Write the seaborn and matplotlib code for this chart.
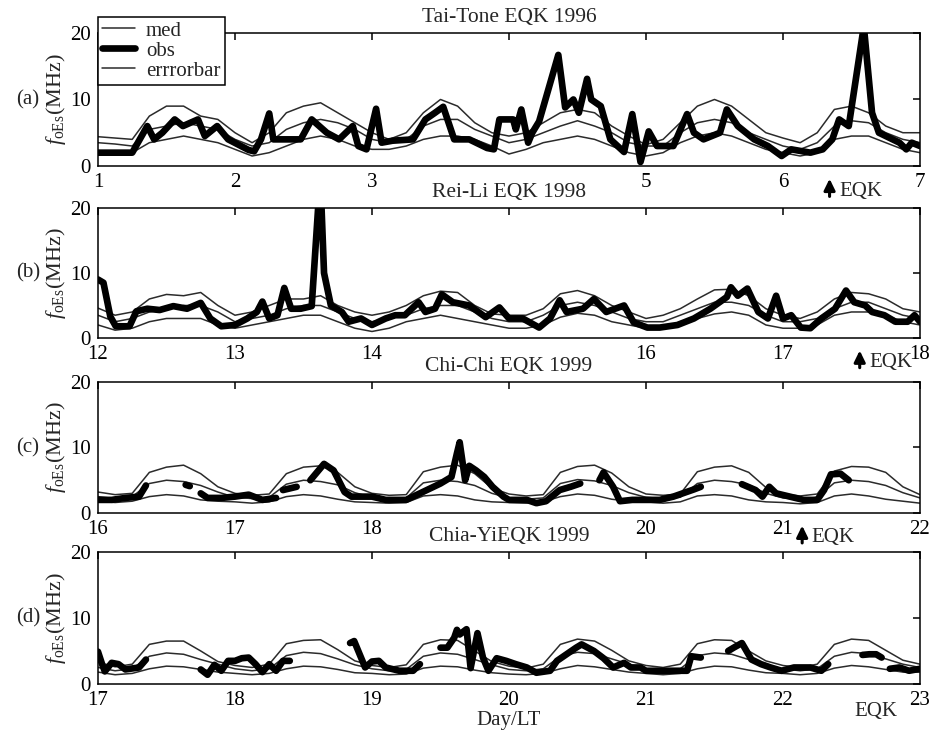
import numpy as np
import pandas as pd
import matplotlib
matplotlib.use("Agg")
import matplotlib.pyplot as plt
import seaborn as sns
from matplotlib.lines import Line2D

nan = np.nan

# ---- panel metadata ----
titles = ["Tai-Tone EQK 1996", "Rei-Li EQK 1998", "Chi-Chi EQK 1999", "Chia-YiEQK 1999"]
panel_tags = ["(a)", "(b)", "(c)", "(d)"]
day_start = [1, 12, 16, 17]

# ---- median / error bar curves, 3-hourly samples over 6 days ----
upper_a = [4.4, 4.2, 4.0, 7.5, 9.0, 9.0, 7.5, 7.0, 5.0,
           3.5, 5.0, 8.0, 9.0, 9.5, 8.0, 6.5, 5.0,
           4.0, 5.0, 8.0, 10.0, 9.0, 6.5, 5.0, 4.5,
           5.0, 6.5, 8.0, 8.5, 8.0, 6.0, 4.5, 3.2,
           4.0, 6.5, 9.0, 10.0, 9.0, 7.0, 5.0, 4.2,
           3.5, 5.0, 8.5, 9.0, 8.0, 6.0, 5.0, 5.0]
med_a = [3.5, 3.3, 3.0, 5.5, 6.0, 6.5, 6.0, 5.5, 4.0,
         3.0, 3.5, 5.5, 6.5, 7.0, 6.5, 5.5, 4.0,
         3.5, 4.0, 6.0, 7.0, 7.0, 5.5, 4.5, 3.5,
         4.0, 5.0, 6.0, 6.8, 6.0, 5.0, 3.5, 3.0,
         3.0, 5.0, 6.5, 7.0, 6.5, 5.0, 4.0, 3.0,
         2.5, 3.5, 6.0, 6.8, 6.5, 5.0, 4.0, 3.5]
lower_a = [2.2, 2.0, 2.0, 3.5, 4.0, 4.5, 4.0, 3.5, 2.5,
           1.5, 2.0, 3.0, 4.0, 4.5, 4.0, 3.0, 2.5,
           2.5, 3.0, 4.0, 4.5, 4.5, 4.0, 3.0, 1.8,
           2.5, 3.5, 4.0, 4.5, 4.0, 3.0, 2.0, 1.5,
           2.0, 3.5, 4.5, 5.0, 4.5, 3.5, 2.5, 2.0,
           1.5, 2.0, 4.0, 4.5, 4.5, 3.5, 2.5, 2.0]

upper_b = [4.6, 3.5, 4.0, 6.0, 6.7, 6.5, 7.0, 5.0,
           3.5, 4.0, 5.0, 6.0, 6.0, 6.5, 5.0, 4.0,
           3.5, 4.0, 5.0, 6.5, 7.2, 7.0, 5.0, 3.7,
           3.5, 3.5, 4.5, 6.8, 7.3, 6.5, 5.0, 4.0,
           3.0, 3.5, 4.5, 6.0, 7.4, 7.5, 6.5, 4.5,
           3.5, 3.0, 4.0, 6.0, 7.0, 6.8, 6.0, 4.5, 4.0]
med_b = [3.5, 2.5, 3.0, 4.0, 4.5, 5.0, 5.0, 4.0,
         2.5, 3.0, 3.5, 4.5, 5.0, 5.0, 4.0, 3.0,
         2.5, 3.0, 3.5, 4.5, 5.0, 5.0, 4.0, 3.0,
         2.5, 2.5, 3.5, 5.0, 5.5, 5.0, 4.0, 3.0,
         2.5, 2.5, 3.5, 4.5, 5.5, 5.5, 5.0, 3.5,
         2.5, 2.5, 3.0, 4.5, 5.5, 5.5, 4.5, 3.5, 3.0]
lower_b = [2.0, 1.2, 1.5, 2.5, 3.0, 3.0, 3.0, 2.0,
           1.5, 2.0, 2.5, 3.0, 3.5, 3.5, 2.5, 1.5,
           1.0, 1.5, 2.5, 3.0, 3.5, 3.0, 2.5, 2.0,
           1.5, 1.5, 2.0, 3.2, 3.8, 3.5, 2.5, 2.0,
           1.5, 1.5, 2.5, 3.0, 3.7, 4.0, 3.5, 2.0,
           1.5, 1.5, 2.0, 3.5, 4.0, 4.0, 3.5, 2.5, 2.0]

upper_c = [3.2, 2.8, 3.0, 6.2, 7.0, 7.3, 6.0, 4.0,
           3.0, 2.7, 2.9, 6.0, 7.0, 7.2, 6.2, 4.0,
           3.0, 2.7, 2.8, 6.3, 7.0, 7.3, 6.0, 3.8,
           2.9, 2.6, 2.8, 6.2, 7.1, 7.3, 6.1, 4.0,
           2.9, 2.7, 2.9, 6.3, 7.0, 7.2, 6.2, 3.9,
           2.9, 2.6, 2.9, 6.4, 7.1, 7.0, 6.2, 4.0, 2.8]
med_c = [2.5, 2.2, 2.5, 4.5, 5.0, 4.8, 4.2, 3.2,
         2.4, 2.2, 2.4, 4.4, 5.0, 4.8, 4.3, 3.1,
         2.4, 2.1, 2.3, 4.6, 5.0, 4.8, 4.2, 3.0,
         2.3, 2.1, 2.3, 4.5, 5.1, 4.9, 4.2, 3.1,
         2.4, 2.2, 2.4, 4.5, 5.0, 4.8, 4.3, 3.0,
         2.3, 2.1, 2.4, 4.6, 5.0, 4.8, 4.2, 3.1, 2.3]
lower_c = [1.8, 1.6, 1.8, 2.5, 2.8, 2.6, 2.0, 1.8,
           1.7, 1.5, 1.7, 2.5, 2.8, 2.6, 2.1, 1.7,
           1.6, 1.5, 1.6, 2.6, 2.8, 2.6, 2.0, 1.7,
           1.6, 1.5, 1.7, 2.5, 2.9, 2.7, 2.1, 1.8,
           1.7, 1.5, 1.7, 2.6, 2.8, 2.6, 2.0, 1.7,
           1.6, 1.4, 1.6, 2.6, 2.9, 2.6, 2.1, 1.8, 1.5]

upper_d = [3.3, 2.6, 3.0, 6.0, 6.5, 6.5, 5.0, 3.4,
           2.8, 2.5, 3.0, 6.1, 6.6, 6.7, 5.2, 3.5,
           2.8, 2.5, 2.9, 6.0, 6.7, 6.6, 5.0, 3.4,
           2.7, 2.4, 3.0, 6.0, 6.8, 6.5, 5.1, 3.5,
           2.8, 2.5, 3.0, 6.1, 6.7, 6.6, 5.0, 3.5,
           2.8, 2.5, 3.0, 6.0, 6.8, 6.6, 5.1, 3.6, 3.0]
med_d = [2.5, 2.0, 2.3, 4.2, 4.7, 4.5, 3.7, 3.0,
         2.3, 2.0, 2.3, 4.3, 4.8, 4.6, 3.8, 2.9,
         2.3, 2.0, 2.2, 4.2, 4.7, 4.5, 3.7, 2.9,
         2.2, 2.0, 2.3, 4.2, 4.8, 4.6, 3.8, 3.0,
         2.3, 2.0, 2.3, 4.3, 4.7, 4.5, 3.7, 2.9,
         2.3, 2.0, 2.3, 4.2, 4.8, 4.6, 3.8, 3.0, 2.5]
lower_d = [1.8, 1.4, 1.6, 2.3, 2.7, 2.6, 2.2, 1.8,
           1.6, 1.4, 1.6, 2.3, 2.7, 2.6, 2.2, 1.7,
           1.6, 1.4, 1.5, 2.4, 2.7, 2.6, 2.1, 1.7,
           1.5, 1.4, 1.6, 2.3, 2.8, 2.6, 2.2, 1.8,
           1.6, 1.4, 1.6, 2.3, 2.7, 2.6, 2.1, 1.7,
           1.6, 1.4, 1.6, 2.4, 2.8, 2.6, 2.2, 1.8, 1.8]

# ---- observed foEs (nan = data gap) ----
obs_a_day = [1.00, 1.25, 1.36, 1.41, 1.47, 1.56, 1.62, 1.73, 1.78, 1.87,
             1.95, 2.10, 2.14, 2.19, 2.25, 2.28, 2.48, 2.56, 2.67, 2.76,
             2.86, 2.90, 2.96, 3.03, 3.07, 3.15, 3.30, 3.39, 3.46, 3.52,
             3.60, 3.71, 3.84, 3.89, 3.93, 4.03, 4.05, 4.09, 4.14, 4.17,
             4.22, 4.36, 4.41, 4.47, 4.51, 4.57, 4.60, 4.67, 4.74, 4.84,
             4.90, 4.96, 5.02, 5.08, 5.20, 5.30, 5.35, 5.42, 5.54, 5.59,
             5.67, 5.79, 5.89, 5.99, 6.06, 6.20, 6.29, 6.36, 6.41, 6.48,
             6.59, 6.65, 6.70, 6.80, 6.85, 6.90, 6.94, 7.00]
obs_a_val = [2.0, 2.0, 6.0, 4.0, 5.0, 7.0, 6.0, 7.0, 4.5, 6.0,
             4.0, 2.4, 2.2, 4.0, 7.9, 4.0, 4.0, 7.0, 5.0, 4.0,
             6.0, 3.0, 2.5, 8.6, 3.5, 3.8, 4.0, 7.0, 8.0, 8.9,
             4.0, 4.0, 2.7, 2.5, 7.0, 7.0, 5.5, 8.5, 3.5, 5.0,
             6.7, 16.7, 8.8, 10.0, 8.0, 13.1, 10.0, 9.0, 4.0, 2.1,
             7.8, 0.6, 5.2, 3.0, 3.0, 7.8, 5.0, 4.0, 5.0, 8.5,
             6.0, 4.0, 3.0, 1.5, 2.5, 2.0, 2.5, 4.0, 7.0, 6.0,
             21.0, 8.0, 5.0, 4.0, 3.5, 2.5, 3.5, 3.0]

obs_b_day = [12.00, 12.04, 12.09, 12.13, 12.23, 12.28, 12.36, 12.45, 12.55, 12.65,
             12.75, 12.82, 12.90, 13.00, 13.09, 13.16, 13.20, 13.25, 13.31, 13.36,
             13.41, 13.48, 13.56, 13.61, 13.63, 13.65, 13.70, 13.78, 13.83, 13.92,
             14.00, 14.10, 14.17, 14.24, 14.34, 14.39, 14.46, 14.51, 14.59, 14.71,
             14.83, 14.93, 15.00, 15.10, 15.22, 15.30, 15.37, 15.42, 15.54, 15.62,
             15.71, 15.84, 15.91, 16.01, 16.10, 16.23, 16.35, 16.47, 16.59, 16.62,
             16.67, 16.74, 16.82, 16.89, 16.95, 17.00, 17.06, 17.13, 17.20, 17.28,
             17.38, 17.46, 17.52, 17.60, 17.65, 17.74, 17.82, 17.91, 17.96, 18.00]
obs_b_val = [9.0, 8.5, 3.3, 1.8, 1.8, 4.1, 4.5, 4.3, 4.9, 4.5,
             5.4, 3.0, 1.8, 2.0, 3.0, 4.0, 5.6, 3.0, 3.5, 7.7,
             4.5, 4.5, 4.9, 21.0, 21.0, 10.0, 5.0, 4.0, 2.5, 3.0,
             2.0, 3.0, 3.5, 3.5, 5.5, 4.0, 4.5, 6.7, 5.5, 5.0,
             3.2, 4.7, 3.0, 3.0, 1.6, 3.0, 5.8, 4.0, 4.5, 6.0,
             4.0, 5.0, 2.4, 1.6, 1.6, 2.0, 3.0, 4.5, 6.3, 7.8,
             6.5, 7.6, 4.0, 3.0, 6.5, 3.0, 3.5, 1.6, 1.5, 3.0,
             4.5, 7.3, 5.5, 5.0, 4.0, 3.5, 2.5, 2.5, 3.5, 2.5]

obs_c_day = [16.00, 16.10, 16.20, 16.30, 16.35, nan, 16.64, 16.67, nan, 16.75,
             16.80, 16.90, 17.00, 17.10, 17.20, 17.30, nan, 17.35, 17.45, nan,
             17.55, 17.65, 17.72, 17.80, 17.85, 18.00, 18.10, 18.25, 18.30, 18.40,
             18.50, 18.58, 18.62, 18.64, 18.68, 18.71, 18.76, 18.82, 18.88, 18.96,
             19.00, 19.13, 19.20, 19.27, 19.37, 19.45, 19.52, nan, 19.66, 19.69,
             19.76, 19.81, 19.90, 20.00, 20.10, 20.20, 20.35, 20.40, nan, 20.70,
             20.80, 20.85, 20.90, 20.95, 21.05, 21.15, 21.25, 21.30, 21.35, 21.42,
             21.48]
obs_c_val = [2.0, 2.0, 2.3, 2.5, 4.2, nan, 4.3, 4.1, nan, 3.0,
             2.3, 2.3, 2.5, 2.8, 2.0, 2.3, nan, 3.5, 4.0, nan,
             5.0, 7.5, 6.5, 3.2, 2.5, 2.5, 2.0, 2.0, 2.5, 3.5,
             4.5, 5.5, 9.1, 10.8, 5.0, 7.2, 6.5, 5.5, 4.0, 2.5,
             2.0, 2.0, 1.5, 1.8, 3.5, 4.0, 4.5, nan, 5.0, 6.2,
             4.0, 1.8, 2.0, 2.0, 2.0, 2.5, 3.6, 4.0, nan, 4.4,
             3.5, 2.5, 4.0, 3.0, 2.5, 2.0, 2.0, 3.5, 5.9, 6.0,
             5.0]

obs_d_day = [17.00, 17.03, 17.05, 17.10, 17.15, 17.20, 17.30, 17.35, nan, 17.75,
             17.80, 17.85, 17.90, 17.95, 18.00, 18.05, 18.10, 18.15, 18.20, 18.25,
             18.30, 18.35, 18.40, nan, 18.84, 18.87, 18.92, 18.95, 19.00, 19.05,
             19.10, 19.20, 19.30, 19.35, nan, 19.50, 19.55, 19.60, 19.62, 19.64,
             19.69, 19.72, 19.77, 19.81, 19.85, 19.91, 19.98, 20.05, 20.13, 20.20,
             20.30, 20.35, 20.42, 20.49, 20.53, 20.62, 20.69, 20.76, 20.84, 20.89,
             20.96, 21.00, 21.10, 21.30, 21.33, 21.40, nan, 21.60, 21.64, 21.70,
             21.77, 21.84, 21.91, 21.99, 22.08, 22.20, 22.28, 22.33, nan, 22.58,
             22.63, 22.68, 22.72, nan, 22.78, 22.85, 22.92, 23.00]
obs_d_val = [4.9, 3.0, 1.9, 3.2, 3.0, 2.2, 2.5, 3.7, nan, 2.2,
             1.4, 2.9, 2.0, 3.5, 3.5, 3.9, 4.0, 3.0, 1.8, 3.0,
             2.0, 3.5, 3.5, nan, 6.2, 6.5, 4.0, 2.5, 3.4, 3.5,
             2.5, 2.0, 2.0, 3.0, nan, 5.5, 5.5, 7.0, 8.2, 7.5,
             8.3, 2.4, 7.7, 4.0, 2.0, 3.9, 3.5, 3.0, 2.5, 1.7,
             2.0, 3.5, 4.5, 5.5, 6.0, 5.0, 3.9, 2.5, 3.2, 2.5,
             2.5, 2.0, 2.0, 2.0, 4.2, 4.0, nan, 5.0, 5.5, 6.2,
             3.7, 3.0, 2.5, 2.0, 2.5, 2.5, 2.0, 3.0, nan, 4.4,
             4.5, 4.5, 4.0, nan, 2.3, 2.5, 2.0, 2.3]

# EQK marker per panel
eqk_day = [6.34, 17.56, 21.14, 22.52]
eqk_arrow = [True, True, True, False]
# the middle day label is covered by the next panel's title
hide_mid_label = [True, True, True, False]

bands = [(upper_a, med_a, lower_a), (upper_b, med_b, lower_b),
         (upper_c, med_c, lower_c), (upper_d, med_d, lower_d)]
obs = [(obs_a_day, obs_a_val), (obs_b_day, obs_b_val),
       (obs_c_day, obs_c_val), (obs_d_day, obs_d_val)]

sns.set_theme(style="white")
plt.rcParams.update({
    "font.family": ["Liberation Serif", "DejaVu Sans"],
    "mathtext.fontset": "custom",
    "mathtext.rm": "Liberation Serif",
    "mathtext.it": "Liberation Serif:italic",
    "font.size": 15,
    "axes.edgecolor": "black",
    "axes.linewidth": 1.1,
})
FS = 15

thin = dict(color="#2b2b2b", lw=1.1)
thick = dict(color="black", lw=4.8, solid_joinstyle="round", solid_capstyle="round")

fig = plt.figure(figsize=(9.34, 7.36), dpi=100)
boxes = [(0.7745, 0.1807), (0.5408, 0.1766), (0.3030, 0.1780), (0.0707, 0.1793)]

for i, (bot, h) in enumerate(boxes):
    ax = fig.add_axes([0.1049, bot, 0.8801, h])
    d0 = day_start[i]
    grid = np.linspace(d0, d0 + 6, 49)
    up, md, lo = bands[i]
    sns.lineplot(x=grid, y=up, ax=ax, **thin)
    sns.lineplot(x=grid, y=md, ax=ax, **thin)
    sns.lineplot(x=grid, y=lo, ax=ax, **thin)

    od = pd.DataFrame({"day": obs[i][0], "val": obs[i][1]})
    od["seg"] = od["val"].isna().cumsum()
    od = od.dropna()
    sns.lineplot(data=od, x="day", y="val", units="seg", estimator=None,
                 sort=False, ax=ax, **thick)

    ax.set_xlim(d0, d0 + 6)
    ax.set_ylim(0, 20)
    days = list(range(d0, d0 + 7))
    labels = [str(d) for d in days]
    if hide_mid_label[i]:
        labels[3] = ""
    ax.set_xticks(days)
    ax.set_xticklabels(labels)
    ax.set_yticks([0, 10, 20])
    ax.tick_params(axis="both", direction="in", length=5, width=1.1,
                   top=True, right=True, labelsize=FS, pad=5, colors="black")
    ax.set_ylabel(r"$\mathit{f}_{\mathrm{oEs}}$(MHz)", fontsize=16)
    ax.yaxis.set_label_coords(-0.037, 0.5)
    ax.set_xlabel("")
    ax.set_title(titles[i], fontsize=15.5, pad=8)
    ax.text(-0.085, 0.5, panel_tags[i], transform=ax.transAxes, fontsize=FS,
            ha="center", va="center")

    tr = ax.get_xaxis_transform()
    if eqk_arrow[i]:
        ax.annotate("", xy=(eqk_day[i], -0.075), xycoords=tr,
                    xytext=(eqk_day[i], -0.25), textcoords=tr,
                    arrowprops=dict(arrowstyle="-|>,head_length=0.45,head_width=0.22",
                                    lw=2.2, color="black"),
                    annotation_clip=False)
        ax.text(eqk_day[i] + 0.07, -0.19, "EQK", transform=tr, fontsize=FS,
                ha="left", va="center", clip_on=False)
    else:
        ax.text(eqk_day[i], -0.21, "EQK", transform=tr, fontsize=FS,
                ha="left", va="center", clip_on=False)

    if i == 0:
        handles = [Line2D([], [], **thin), Line2D([], [], color="black", lw=4.8),
                   Line2D([], [], **thin)]
        leg = ax.legend(handles, ["med", "obs", "errrorbar"], loc="upper left",
                        bbox_to_anchor=(0.0, 1.12), borderaxespad=0, fontsize=FS,
                        frameon=True, fancybox=False, framealpha=1, edgecolor="black",
                        handlelength=1.6, handletextpad=0.5, labelspacing=0.02,
                        borderpad=0.2)
        leg.get_frame().set_linewidth(1.1)
    if i == 3:
        ax.set_xlabel("Day/LT", fontsize=FS, labelpad=1)

fig.savefig("out.png", dpi=100)
